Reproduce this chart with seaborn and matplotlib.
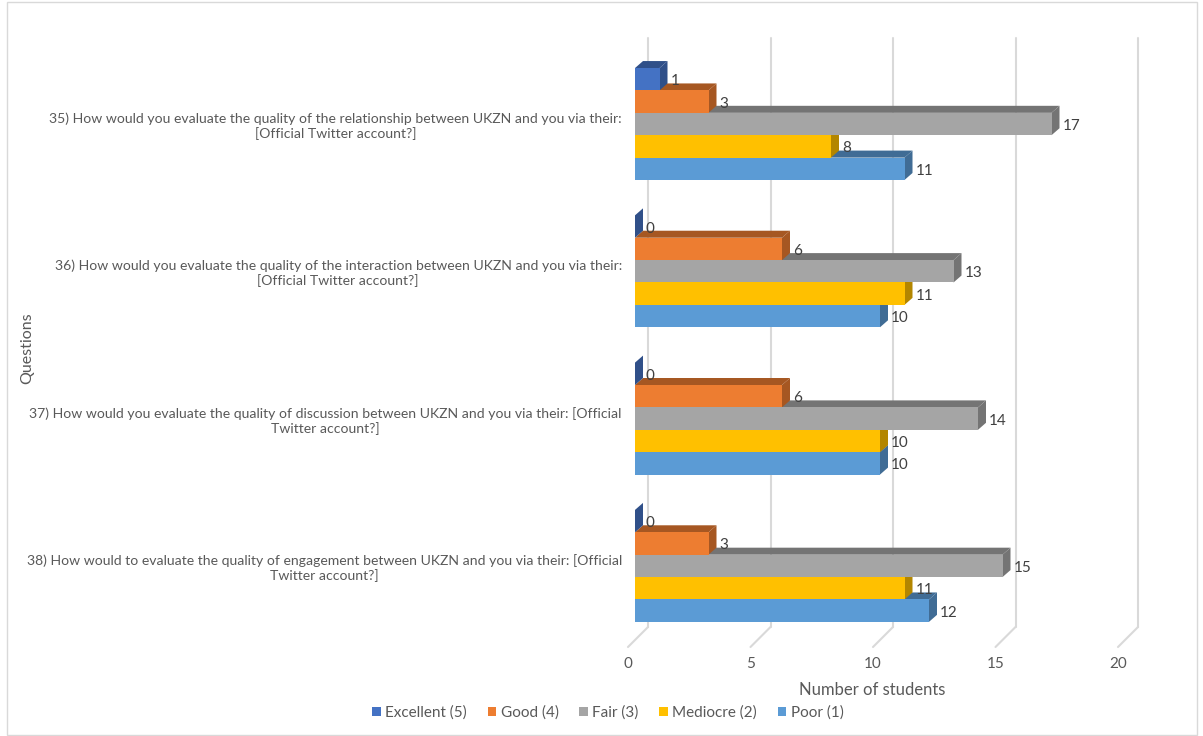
import numpy as np
import pandas as pd
import matplotlib
matplotlib.use("Agg")
import matplotlib.pyplot as plt
import matplotlib.patches as mpatches
import matplotlib.transforms as mtrans
import seaborn as sns

# ---------------- data ----------------
questions = [
    "35) How would you evaluate the quality of the relationship between UKZN and you via their:\n[Official Twitter account?]",
    "36) How would you evaluate the quality of the interaction between UKZN and you via their:\n[Official Twitter account?]",
    "37) How would you evaluate the quality of discussion between UKZN and you via their: [Official\nTwitter account?]",
    "38) How would to evaluate the quality of engagement between UKZN and you via their: [Official\nTwitter account?]",
]
ratings = ["Excellent (5)", "Good (4)", "Fair (3)", "Mediocre (2)", "Poor (1)"]
excellent = [1, 0, 0, 0]
good = [3, 6, 6, 3]
fair = [17, 13, 14, 15]
mediocre = [8, 11, 10, 11]
poor = [11, 10, 10, 12]
x_ticks = [0, 5, 10, 15, 20]
colors = ["#4472C4", "#ED7D31", "#A5A5A5", "#FFC000", "#5B9BD5"]

series = [excellent, good, fair, mediocre, poor]
rows = []
for r, vals in zip(ratings, series):
    for q, v in zip(questions, vals):
        rows.append({"question": q, "rating": r, "count": v})
df = pd.DataFrame(rows)

# ---------------- figure ----------------
sns.set_style("white")
plt.rcParams["font.family"] = ["Lato", "DejaVu Sans"]
W, H = 1203, 736
fig = plt.figure(figsize=(W / 100, H / 100), dpi=100)

ax_left, ax_right, ax_top, ax_bot = 635, 1125, 38, 627
ax = fig.add_axes([ax_left / W, 1 - ax_bot / H, (ax_right - ax_left) / W, (ax_bot - ax_top) / H])

sns.barplot(data=df, x="count", y="question", hue="rating", order=questions,
            hue_order=ratings, palette=colors, saturation=1, width=0.76,
            orient="h", ax=ax, legend=False, errorbar=None)

ax.set_xlim(0, 20)
ax.set_ylim(3.415, -0.584)
for s in ax.spines.values():
    s.set_visible(False)

pxx = (ax_right - ax_left) / 20.0          # pixels per x unit
pxy = (ax_bot - ax_top) / (3.415 + 0.584)  # pixels per y unit

# 3D depth of bars
ddx = 8 / pxx
ddy = 7 / pxy

def darker(c, f=0.7):
    r, g, b, a = matplotlib.colors.to_rgba(c)
    return (r * f, g * f, b * f, 1)

bars = list(ax.patches)
order = sorted(range(len(bars)), key=lambda i: -bars[i].get_y())
for k, i in enumerate(order):
    p = bars[i]
    x0, w, y0, h = p.get_x(), p.get_width(), p.get_y(), p.get_height()
    dc = darker(p.get_facecolor())
    top = [(x0, y0), (x0 + w, y0), (x0 + w + ddx, y0 - ddy), (x0 + ddx, y0 - ddy)]
    side = [(x0 + w, y0), (x0 + w + ddx, y0 - ddy), (x0 + w + ddx, y0 + h - ddy), (x0 + w, y0 + h)]
    z = 1.5 + k * 0.001
    ax.add_patch(mpatches.Polygon(top, closed=True, facecolor=dc, edgecolor="none", zorder=z, clip_on=False))
    ax.add_patch(mpatches.Polygon(side, closed=True, facecolor=dc, edgecolor="none", zorder=z, clip_on=False))
    p.set_zorder(3)
    p.set_edgecolor("none")
    # data label
    ax.annotate(f"{int(round(w))}", xy=(x0 + w, y0 + h / 2), xytext=(11, -2),
                textcoords="offset pixels", ha="left", va="center",
                fontsize=11, color="#404040", zorder=5, annotation_clip=False)

# grid (back wall) and slanted floor lines
gcol = "#D9D9D9"
goff = 13 / pxx
for v in x_ticks:
    ax.plot([v + goff, v + goff], [-0.584, 3.415], color=gcol, lw=1.5, zorder=0.5, clip_on=False)
    ax.plot([v + goff, v + goff - 20 / pxx], [3.415, 3.415 + 20 / pxy], color=gcol, lw=1.5,
            zorder=0.5, clip_on=False)

# x tick labels (shifted to the floor front)
ax.set_xticks(x_ticks)
ax.set_xticklabels([])
ax.tick_params(axis="x", length=0)
blend = mtrans.blended_transform_factory(ax.transData, ax.transAxes)
for v in x_ticks:
    ax.text(v, 0, str(v), transform=blend + mtrans.ScaledTranslation(-7 / 100, -37 / 100, fig.dpi_scale_trans),
            ha="center", va="center", fontsize=11, color="#595959")

# y tick labels
ax.set_yticks(range(len(questions)))
ax.set_yticklabels(questions, fontsize=10.1, color="#595959", ha="right", multialignment="center")
ax.tick_params(axis="y", length=0, pad=9.5)

ax.set_xlabel("")
ax.set_ylabel("")
fig.text(872 / W, 1 - 690 / H, "Number of students", ha="center", va="center", fontsize=12, color="#595959")
fig.text(27 / W, 1 - 348 / H, "Questions", ha="center", va="center", rotation=90, fontsize=11.5, color="#595959")

handles = [mpatches.Patch(facecolor=c, edgecolor="none", label=r) for c, r in zip(colors, ratings)]
fig.legend(handles=handles, loc="center", bbox_to_anchor=(608 / W, 1 - 713 / H), ncol=5, frameon=False,
           fontsize=11, handlelength=0.55, handleheight=0.55, handletextpad=0.3, columnspacing=1.35,
           labelcolor="#595959")

fig.add_artist(mpatches.Rectangle((7 / W, 1 / H), 1190 / W, 733 / H, transform=fig.transFigure,
                                  facecolor="none", edgecolor="#D9D9D9", lw=1))

fig.savefig("out.png", dpi=100)
